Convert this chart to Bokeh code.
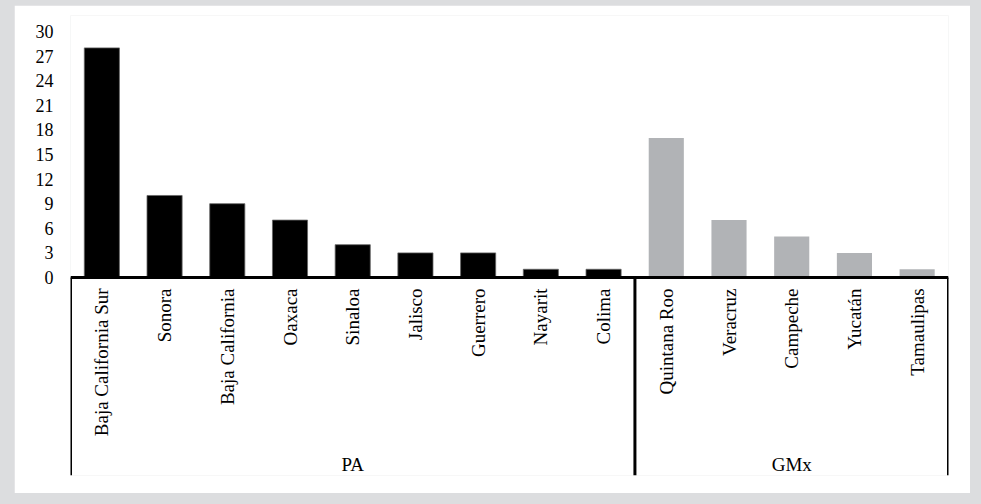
import math
from bokeh.plotting import figure
from bokeh.models import Range1d, FixedTicker, ColumnDataSource, GlobalInlineStyleSheet
from bokeh.core.properties import value
from bokeh.embed import file_html
from bokeh.resources import INLINE

# ---- data ----
states_pa = ["Baja California Sur", "Sonora", "Baja California", "Oaxaca", "Sinaloa",
             "Jalisco", "Guerrero", "Nayarit", "Colima"]
values_pa = [28, 10, 9, 7, 4, 3, 3, 1, 1]
states_gmx = ["Quintana Roo", "Veracruz", "Campeche", "Yucatán", "Tamaulipas"]
values_gmx = [17, 7, 5, 3, 1]
groups = ["PA", "GMx"]
y_ticks = [0, 3, 6, 9, 12, 15, 18, 21, 24, 27, 30]

FONT = "Liberation Serif"
n_pa = len(states_pa)
n_all = n_pa + len(states_gmx)

x_pa = [i + 0.5 for i in range(n_pa)]
x_gmx = [n_pa + i + 0.5 for i in range(len(states_gmx))]

p = figure(width=956, height=488, output_backend="svg", toolbar_location=None,
           x_range=Range1d(0, n_all), y_range=Range1d(-24.15, 31.95),
           x_axis_location=None, min_border_left=56, min_border_right=22,
           min_border_top=10, min_border_bottom=18)
p.styles = {"margin-left": "14px", "margin-top": "5px"}
p.stylesheets = [GlobalInlineStyleSheet(css="body { background-color: #dcdddf; }")]
p.background_fill_color = "white"
p.border_fill_color = "white"
p.outline_line_color = None
p.grid.visible = False

yax = p.yaxis[0]
yax.ticker = FixedTicker(ticks=y_ticks)
yax.axis_line_color = None
yax.major_tick_line_color = None
yax.minor_tick_line_color = None
yax.major_tick_out = 0
yax.major_tick_in = 0
yax.major_label_standoff = 17
yax.major_label_text_font = FONT
yax.major_label_text_font_size = "18px"
yax.major_label_text_color = "black"

# bars
p.vbar(x=x_pa, top=values_pa, width=0.56, bottom=0, fill_color="black", line_color="#666666", line_width=0.8)
p.vbar(x=x_gmx, top=values_gmx, width=0.56, bottom=0, fill_color="#b1b3b6", line_color=None)

# baseline and group separators
p.segment(x0=[0], y0=[0], x1=[n_all], y1=[0], line_color="black", line_width=3)
bounds = [0, n_pa, n_all]
p.segment(x0=bounds, y0=[0] * 3, x1=bounds, y1=[-24.15] * 3, line_color="black", line_width=3)

# category labels
lab_src = ColumnDataSource(dict(x=x_pa + x_gmx, y=[0] * n_all, t=states_pa + states_gmx))
p.text(x="x", y="y", text="t", source=lab_src, angle=math.pi / 2, text_align="right",
       text_baseline="middle", y_offset=11, text_font=value(FONT), text_font_size="19px",
       text_color="black")

# group labels
gx = [sum(x_pa) / len(x_pa), sum(x_gmx) / len(x_gmx)]
p.text(x=gx, y=[0, 0], text=groups, text_align="center", text_baseline="middle",
       y_offset=187, text_font=value(FONT), text_font_size="19px", text_color="black")

open("out.html", "w").write(file_html(p, INLINE))
